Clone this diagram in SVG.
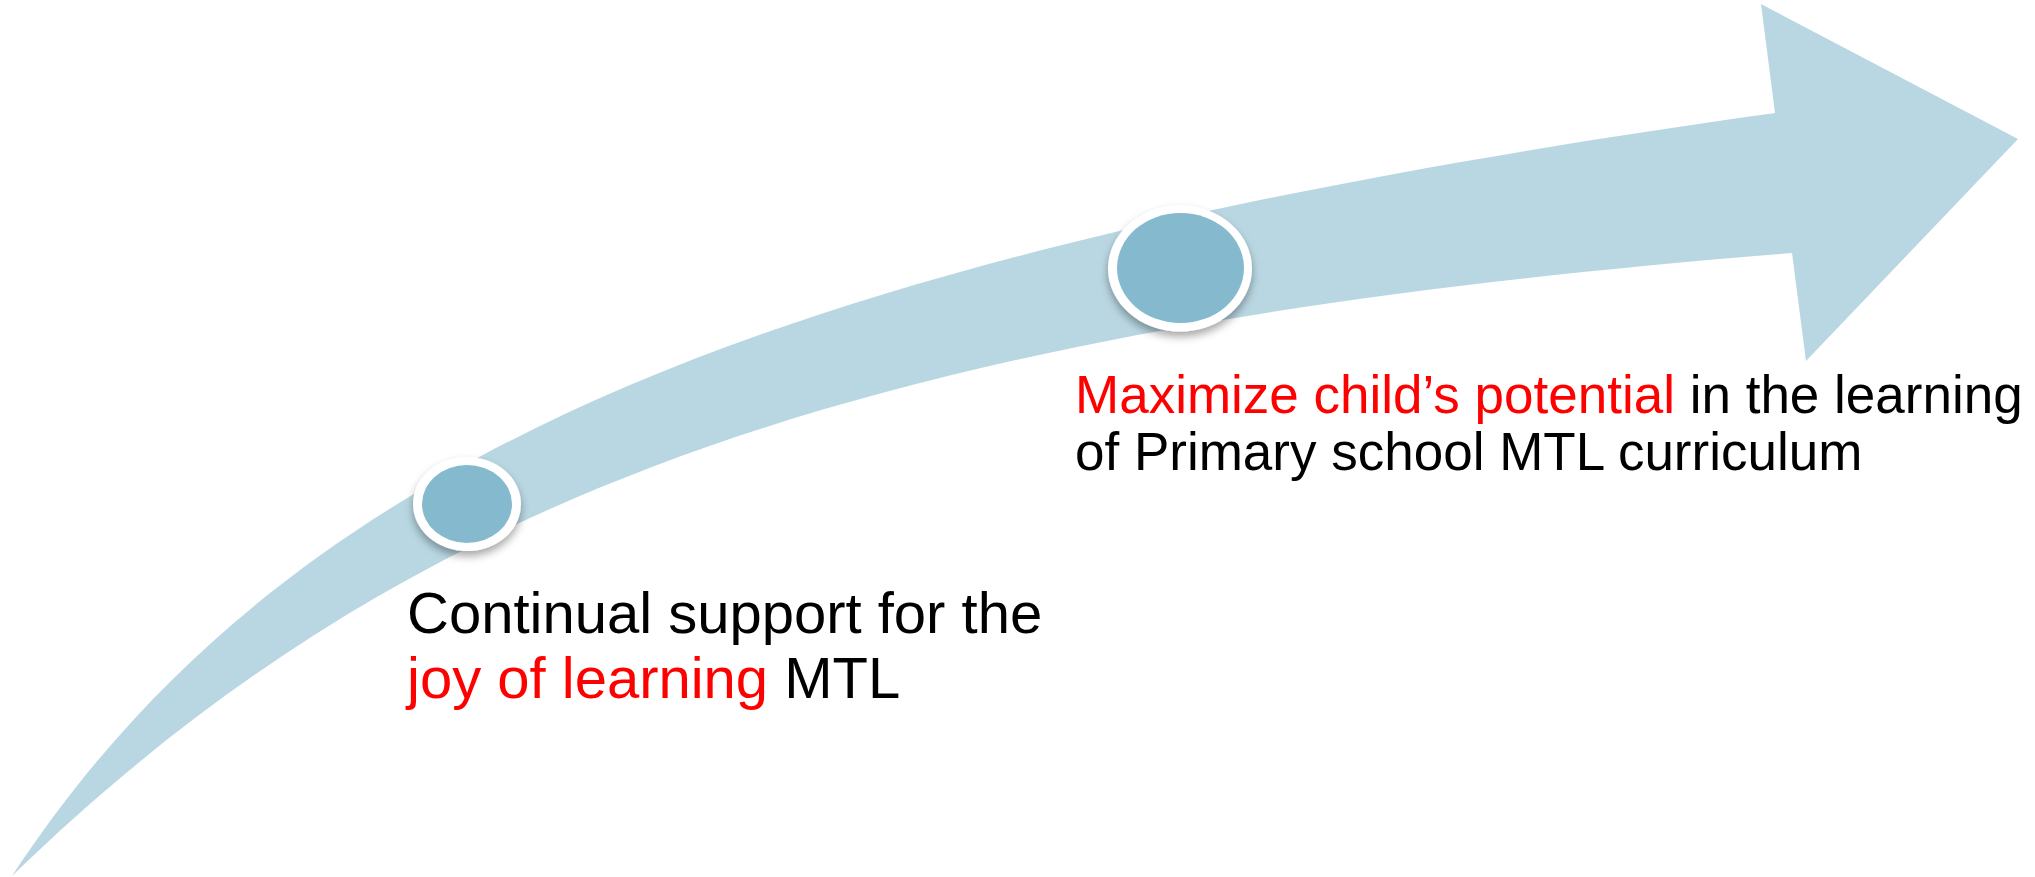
<svg xmlns="http://www.w3.org/2000/svg" width="2035" height="877" viewBox="0 0 2035 877">
  <defs>
    <filter id="shadow" x="-30%" y="-30%" width="160%" height="170%">
      <feDropShadow dx="0" dy="5" stdDeviation="4" flood-color="#000000" flood-opacity="0.35"/>
    </filter>
    <style>
      .arrow { fill: #B9D7E2; }
      .ring { fill: #FFFFFF; filter: url(#shadow); }
      .dot { fill: #84B9CE; }
      .lbl { font-family: "Liberation Sans", Arial, sans-serif; fill: #000000; }
      .hi { fill: #FF0000; }
    </style>
  </defs>
  <rect width="2035" height="877" fill="#FFFFFF"/>
  <g id="connectors">
    <path class="arrow" d="M12,876 C290,452 777.5,252.5 1775,113 L1761,4 L2018,139 L1806,361 L1792,253 C871,326.5 410,490 12,876 Z"/>
  </g>
  <g id="node-1">
    <ellipse class="ring" cx="467" cy="504" rx="54" ry="47"/>
    <ellipse class="dot" cx="467" cy="504" rx="45" ry="39"/>
    <text class="lbl" font-size="58" x="407" y="633">Continual support for the</text>
    <text class="lbl" font-size="58" x="407" y="698"><tspan class="hi">joy of learning</tspan> MTL</text>
  </g>
  <g id="node-2">
    <ellipse class="ring" cx="1180" cy="268.5" rx="72" ry="63"/>
    <ellipse class="dot" cx="1180.5" cy="268" rx="63.5" ry="55"/>
    <text class="lbl" font-size="53" x="1075" y="413"><tspan class="hi">Maximize child’s potential</tspan> in the learning</text>
    <text class="lbl" font-size="53" x="1075" y="470">of Primary school MTL curriculum</text>
  </g>
</svg>
